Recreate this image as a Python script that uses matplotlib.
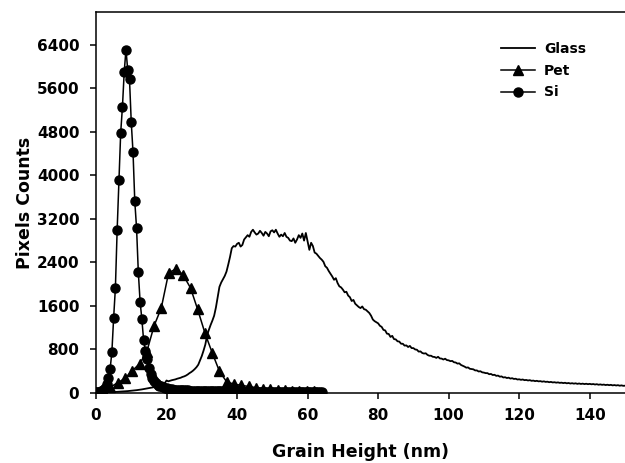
import numpy as np
import matplotlib
matplotlib.use("Agg")
import matplotlib.pyplot as plt

plt.rcParams['font.family'] = ['DejaVu Sans']
plt.rcParams['font.weight'] = 'bold'

# ---------------- data ----------------
# Glass: x = 0, 0.5, 1.0, ... 150 nm
glass_step = 0.5
glass_y = [
    0, 2, 3, 5, 6, 8, 9, 11, 13, 15, 18, 20, 22, 24, 26, 28, 30, 32, 35, 38,
    40, 44, 48, 52, 56, 60, 66, 72, 76, 82, 88, 94, 100, 106, 112, 120, 126, 135, 150, 180,
    230, 215, 225, 235, 242, 250, 262, 270, 280, 295, 305, 320, 340, 365, 385, 410, 440, 475, 520, 600,
    680, 780, 890, 1060, 1160, 1250, 1330, 1420, 1570, 1760, 1950, 2030, 2090, 2150, 2230, 2360, 2500, 2660, 2700, 2690,
    2740, 2760, 2690, 2720, 2820, 2860, 2900, 2870, 2960, 3000, 2950, 2910, 2930, 2980, 2940, 2890, 2960, 2930, 2880, 2970,
    2990, 2950, 3000, 2930, 2870, 2910, 2880, 2940, 2870, 2850, 2800, 2790, 2840, 2760, 2820, 2900, 2850, 2930, 2800, 2940,
    2780, 2630, 2760, 2700, 2580, 2560, 2520, 2480, 2450, 2410, 2330, 2300, 2240, 2190, 2140, 2080, 2110, 2020, 1960, 1940,
    1900, 1850, 1860, 1790, 1760, 1690, 1710, 1640, 1610, 1580, 1560, 1590, 1540, 1530, 1500, 1470, 1420, 1350, 1320, 1300,
    1280, 1235, 1215, 1160, 1150, 1090, 1085, 1030, 1050, 990, 985, 950, 945, 905, 905, 870, 875, 845, 865, 825,
    825, 800, 795, 760, 765, 735, 725, 730, 700, 685, 685, 665, 662, 645, 665, 635, 632, 615, 630, 605,
    600, 585, 590, 565, 560, 540, 545, 515, 500, 485, 465, 470, 445, 440, 435, 415, 415, 395, 400, 380,
    375, 365, 365, 345, 350, 330, 335, 315, 320, 300, 305, 285, 290, 275, 282, 265, 272, 258, 262, 248,
    252, 242, 248, 236, 240, 230, 236, 224, 228, 218, 224, 214, 218, 208, 214, 204, 208, 198, 204, 194,
    198, 190, 195, 186, 190, 182, 188, 178, 184, 174, 180, 172, 178, 168, 175, 166, 172, 164, 170, 162,
    168, 160, 165, 156, 162, 152, 158, 150, 155, 146, 152, 144, 150, 140, 146, 138, 144, 134, 140, 132,
    134,
]
glass_x = np.arange(len(glass_y)) * glass_step

# Pet (triangles)
pet_x = [0.0, 2.1, 4.1, 6.2, 8.2, 10.3, 12.4, 14.4, 16.5, 18.5, 20.6, 22.7, 24.7, 26.8, 28.8,
         30.9, 33.0, 35.0, 37.1, 39.1, 41.2, 43.3, 45.3, 47.4, 49.4, 51.5, 53.6, 55.6, 57.7,
         59.7, 61.8]
pet_y = [10, 40, 110, 190, 270, 410, 540, 760, 1240, 1560, 2210, 2280, 2170, 1930, 1540,
         1100, 730, 400, 200, 165, 140, 120, 100, 80, 65, 55, 50, 45, 40,
         38, 35]

# Si (circles): x = 0, 0.5, ... 64 nm
si_step = 0.5
si_y = [
    15, 10, 20, 30, 50, 90, 160, 280, 440, 750, 1380, 1930, 3000, 3910, 4780, 5260, 5900, 6310, 5930, 5760,
    4970, 4420, 3520, 3030, 2220, 1680, 1360, 970, 780, 620, 460, 350, 280, 220, 185, 155, 135, 120, 105, 95,
    85, 78, 72, 68, 64, 60, 57, 54, 52, 50, 48,
    47, 46, 45, 44, 44, 43, 42, 41, 40, 40, 39, 38, 38, 37, 36, 36, 35, 35, 34, 33,
    33, 32, 32, 31, 31, 30, 30, 30, 29, 29, 28, 28, 28, 27, 27, 27, 26, 26, 26, 25,
    25, 25, 25, 24, 24, 24, 24, 23, 23, 23, 23, 22, 22, 22, 22, 22, 21, 21, 21, 21,
    21, 20, 20, 20, 20, 20, 19, 19, 19, 19, 19, 18, 18, 18, 18, 18, 18, 17,
]
si_x = np.arange(len(si_y)) * si_step

x_ticks = [0, 20, 40, 60, 80, 100, 120, 140]
y_ticks = [0, 800, 1600, 2400, 3200, 4000, 4800, 5600, 6400]

# ---------------- figure ----------------
fig = plt.figure(figsize=(6.25, 4.63), dpi=100)
ax = fig.add_axes([96 / 625, 70 / 463, 529 / 625, 381 / 463])

ax.plot(glass_x, glass_y, color='black', lw=1.3, label='Glass')
ax.plot(pet_x, pet_y, color='black', lw=1.1, marker='^', ms=7, label='Pet')
ax.plot(si_x, si_y, color='black', lw=1.1, marker='o', ms=6.5, label='Si')

ax.set_xlim(0, 150)
ax.set_ylim(0, 7000)
ax.set_xticks(x_ticks)
ax.set_yticks(y_ticks)
ax.set_xticklabels([str(v) for v in x_ticks], fontsize=11, fontweight='bold')
ax.set_yticklabels([str(v) for v in y_ticks], fontsize=11, fontweight='bold')

for s in ['left', 'bottom', 'top']:
    ax.spines[s].set_linewidth(1.1)
ax.spines['right'].set_visible(False)
ax.tick_params(axis='both', direction='out', length=4, width=1.1, top=False, right=False)
ax.tick_params(axis='x', pad=7)
ax.tick_params(axis='y', pad=8)

ax.set_xlabel('Grain Height (nm)', fontsize=12.5, fontweight='bold', labelpad=14)
ax.set_ylabel('Pixels Counts', fontsize=12.5, fontweight='bold', labelpad=2)

leg = ax.legend(loc='upper left', bbox_to_anchor=(497 / 625, 1 - 38 / 463),
                bbox_transform=fig.transFigure, frameon=False,
                prop={'size': 10, 'weight': 'bold'}, handlelength=2.4,
                handletextpad=0.7, labelspacing=0.55, borderaxespad=0, borderpad=0.3)

fig.savefig('out.png', dpi=100)
